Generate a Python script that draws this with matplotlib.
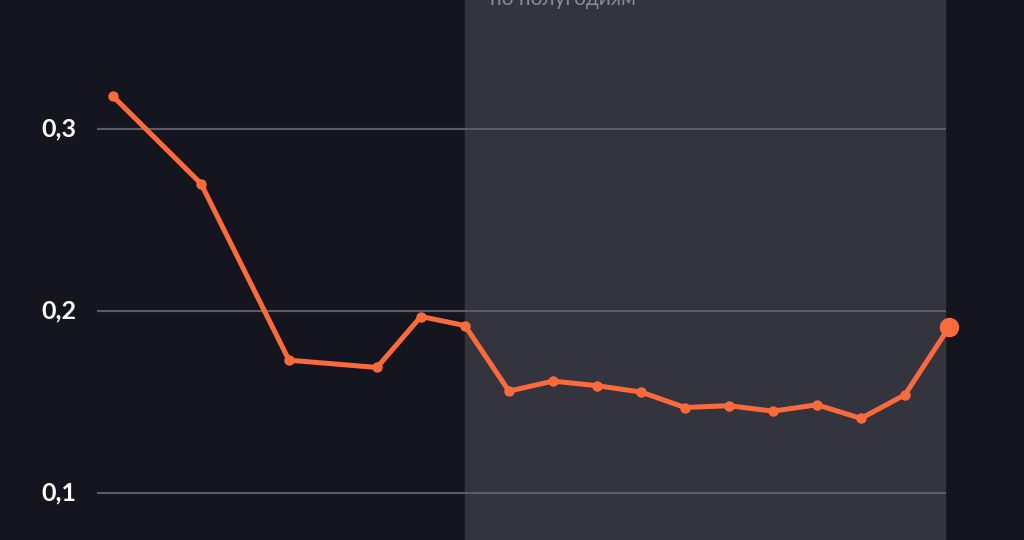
import matplotlib.pyplot as plt

# позиции в полугодиях (сначала по годам, потом по полугодиям)
periods = [0, 2, 4, 6, 7, 8, 9, 10, 11, 12, 13, 14, 15, 16, 17, 18, 19]
values = [0.318, 0.270, 0.173, 0.169, 0.197, 0.192, 0.156, 0.1615, 0.159,
          0.1555, 0.147, 0.148, 0.145, 0.1485, 0.141, 0.154, 0.191]
yticks = [0.1, 0.2, 0.3]
ytick_labels = ['0,1', '0,2', '0,3']
shade_start, shade_end = 8, 18.9
note = 'по полугодиям'

bg = '#15151f'
shade = '#34343e'
orange = '#fb6a3c'

fig = plt.figure(figsize=(10.24, 5.4), dpi=100, facecolor=bg)
ax = fig.add_axes([0, 0, 1, 1])
ax.set_facecolor(bg)
ax.set_xlim(-2.568, 20.705)
ax.set_ylim(0.0742, 0.3709)

ax.axvspan(shade_start, shade_end, color=shade, zorder=0)
for y, lab in zip(yticks, ytick_labels):
    ax.plot([-0.34, shade_end], [y, y], color='#5c5c68', lw=1.5, zorder=1)
    ax.text(-0.83, y, lab, color='white', fontsize=18, fontweight='bold',
            family='Lato', ha='right', va='center')

ax.plot(periods, values, color=orange, lw=3.6, marker='o', ms=6.5,
        solid_capstyle='round', zorder=3)
ax.plot(periods[-1], values[-1], 'o', color=orange, ms=13, zorder=4)

fig.text(490 / 1024, 1 - 5 / 540, note, color='#8a8a96', fontsize=15,
         family='Lato', ha='left', va='baseline')

ax.axis('off')
fig.savefig('out.png', dpi=100, facecolor=bg)
